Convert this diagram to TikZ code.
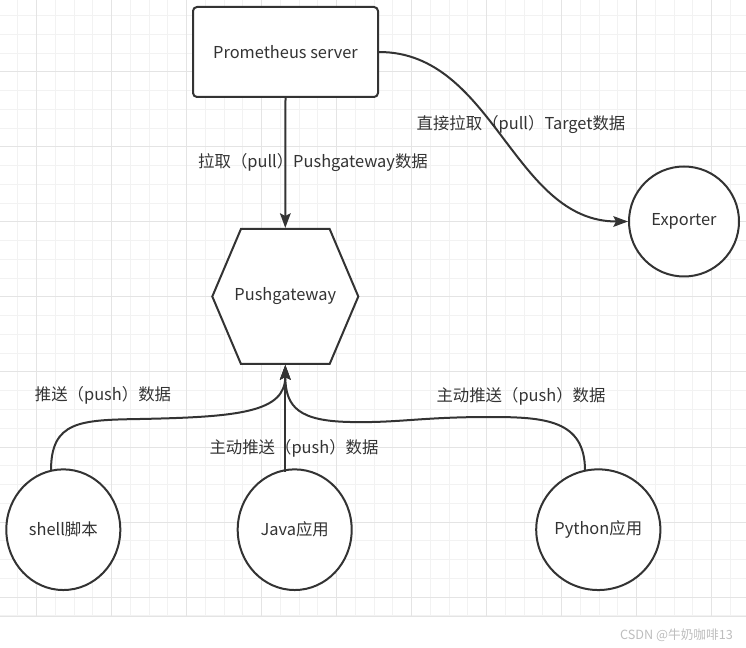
\documentclass[tikz,border=0pt]{standalone}
\usepackage{fontspec}
\setmainfont{Noto Sans CJK SC}
\usetikzlibrary{shapes.symbols,shapes.geometric,arrows.meta}
\definecolor{ink}{HTML}{333333}
\definecolor{gridminor}{HTML}{F2F2F2}
\definecolor{gridmajor}{HTML}{E4E4E4}
\definecolor{markgray}{HTML}{BDBDBD}
\tikzset{
        treenode/.style={align=center,inner sep=0pt,text=ink,font=\fontsize{12.3}{14}\selectfont},
        % Server box
        node_server/.style={treenode, rectangle, rounded corners=3pt, draw=ink, line width=1.5pt, fill=white, minimum width=138.75pt, minimum height=67.5pt},
        % Gateway hexagon
        node_gateway/.style={treenode, signal, signal to=east and west, signal pointer angle=134, draw=ink, line width=1.5pt, fill=white, minimum width=109.5pt, minimum height=101.25pt},
        % Exporter circle
        node_exporter/.style={treenode, circle, draw=ink, line width=1.5pt, fill=white, minimum size=82.5pt},
        % Client ellipses
        node_client/.style={treenode, ellipse, draw=ink, line width=1.5pt, fill=white, minimum width=85.5pt, minimum height=90.5pt},
        % Edge labels
        node_label/.style={treenode},
        edge_arrow/.style={draw=ink, line width=1.5pt, -{Stealth[length=11pt,width=8pt,inset=2pt]}}
}
\begin{document}
\begin{tikzpicture}[x=0.75pt, y=-0.75pt]
    \useasboundingbox (0,0) rectangle (746,648);
    % grid
    \foreach \k in {0,...,38} \draw[gridminor, line width=0.75pt] (17.95+18.75*\k,0) -- (17.95+18.75*\k,616.5);
    \foreach \k in {0,...,32} \draw[gridminor, line width=0.75pt] (0,15.75+18.75*\k) -- (746,15.75+18.75*\k);
    \foreach \k in {0,...,9} \draw[gridmajor, line width=0.75pt] (36.7+75*\k,0) -- (36.7+75*\k,616.5);
    \foreach \k in {0,...,7} \draw[gridmajor, line width=0.75pt] (0,72+75*\k) -- (746,72+75*\k);
    \draw[gridmajor, line width=0.75pt] (0,616.5) -- (746,616.5);

    \node[node_server] (server) at (285.5,52) {Prometheus server};
    \node[node_gateway] (gateway) at (285.3,296.5) {\makebox[0pt]{Pushgateway}};
    \node[node_exporter] (exporter) at (684,221.5) {Exporter};
    \node[node_client] (shell) at (63.3,529.7) {shell脚本};
    \node[node_client] (java) at (294.7,529.7) {Java应用};
    \node[node_client] (python) at (598.3,529.7) {Python应用};

    \coordinate (java_top) at (285.3,471.5);
    \coordinate (shell_top) at (51,470.5);
    \coordinate (python_top) at (585,470.5);

    \draw[edge_arrow] (server.south) -- (gateway.north);
    \draw[edge_arrow] (server.east) .. controls +(115,0) and +(-115,0) .. (exporter.west);
    \draw[edge_arrow] (java_top) -- (gateway.south);
    \draw[edge_arrow] (shell_top) .. controls (51,421) and (80,420) .. (140,419)
        .. controls (240,417) and (285.3,412) .. (gateway.south);
    \draw[edge_arrow] (python_top) .. controls (585,420) and (545,417) .. (490,417)
        .. controls (420,417) and (400,423) .. (350,422)
        .. controls (300,421) and (285.3,408) .. (gateway.south);

    \node[node_label] (label_pull_gateway) at (313,163) {拉取（pull）Pushgateway数据};
    \node[node_label] (label_pull_target) at (521,125) {直接拉取（pull）Target数据};
    \node[node_label] (label_push_shell) at (103,395) {推送（push）数据};
    \node[node_label] (label_push_java) at (294,448) {主动推送（push）数据};
    \node[node_label] (label_push_python) at (521,396) {主动推送（push）数据};

    \node[treenode, text=markgray, font=\fontsize{9.5}{11}\selectfont] (mark) at (676.5,635) {CSDN @牛奶咖啡13};
\end{tikzpicture}
\end{document}
